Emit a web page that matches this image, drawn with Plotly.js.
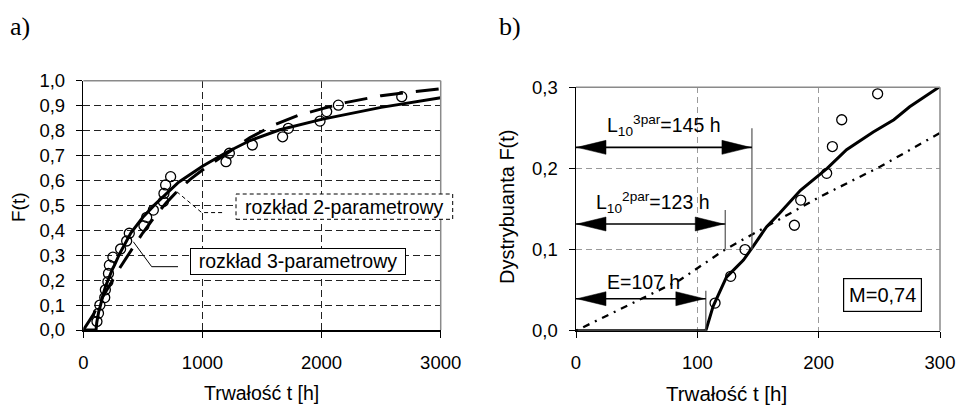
<!DOCTYPE html>
<html><head><meta charset="utf-8">
<script src="https://cdn.plot.ly/plotly-3.0.1.min.js"></script>
<style>html,body{margin:0;padding:0;background:#fff}#chart{width:959px;height:405px}</style>
</head><body><div id="chart"></div>
<script>
// ---- data ----
const obsT = [114.6,127.5,139.3,180,185.2,206.6,211.3,219,248.6,313,364,386,509,532,588,672,677,691,733,1198,1226,1419,1673,1721,1987,2043,2141,2673];
const obsF = [0.034,0.067,0.100,0.130,0.161,0.194,0.227,0.260,0.292,0.325,0.357,0.388,0.418,0.452,0.481,0.515,0.548,0.582,0.615,0.675,0.709,0.742,0.775,0.809,0.838,0.876,0.902,0.936];
const weib3T = [0,107,113,124,130,138,146,157,168,185,207,223,245,262,275,305,400,500,600,700,800,1000,1200,1400,1650,2000,2500,3000];
const weib3F = [0,0,0.030,0.066,0.075,0.087,0.104,0.128,0.145,0.173,0.200,0.223,0.245,0.260,0.276,0.306,0.390,0.452,0.503,0.550,0.593,0.657,0.712,0.760,0.803,0.845,0.893,0.932];
const weib2T = [0,52.7,85.7,122.8,157,201,250.5,305,400,500,600,700,800,900,1000,1200,1400,1600,1800,2000,2200,2500,2800,3000];
const weib2F = [0,0.038,0.0625,0.100,0.128,0.165,0.202,0.248,0.318,0.390,0.455,0.512,0.562,0.605,0.642,0.708,0.772,0.822,0.860,0.887,0.912,0.940,0.958,0.968];
const xTicksA = [0,1000,2000,3000];
const yTicksA = [0,0.1,0.2,0.3,0.4,0.5,0.6,0.7,0.8,0.9,1.0];
const xTicksB = [0,100,200,300];
const yTicksB = [0,0.1,0.2,0.3];
const E = 107, L10_2 = 123, L10_3 = 145;
const F10 = 0.1;
const labelM = 'M=0,74';
const label2 = 'rozkład 2-parametrowy';
const label3 = 'rozkład 3-parametrowy';
const xTitle = 'Trwałość t [h]';

// ---- geometry ----
const W = 959, H = 405;
const px = x => x / W;
const py = y => 1 - y / H;
const FONT = 'Liberation Sans, Arial, Helvetica, sans-serif';

const axisBase = {
  showline:true, linecolor:'#000', linewidth:1.5,
  ticks:'outside', ticklen:6, tickwidth:1, tickcolor:'#000',
  zeroline:false, showgrid:true, gridwidth:1,
  tickfont:{size:18.5, family:FONT, color:'#000'}, fixedrange:true
};

const traces = [
  {x:weib3T, y:weib3F, xaxis:'x', yaxis:'y', mode:'lines', line:{color:'#000', width:3}, hoverinfo:'skip'},
  {x:weib2T, y:weib2F, xaxis:'x', yaxis:'y', mode:'lines', line:{color:'#000', width:3, dash:'23px,13px'}, hoverinfo:'skip'},
  {x:obsT, y:obsF, xaxis:'x', yaxis:'y', mode:'markers', marker:{symbol:'circle-open', size:10, color:'#000', line:{width:1.3}}},
  {x:weib3T, y:weib3F, xaxis:'x2', yaxis:'y2', mode:'lines', line:{color:'#000', width:3}, hoverinfo:'skip'},
  {x:weib2T, y:weib2F, xaxis:'x2', yaxis:'y2', mode:'lines', line:{color:'#000', width:2.3, dash:'2px,6px,7px,6px'}, hoverinfo:'skip'},
  {x:obsT, y:obsF, xaxis:'x2', yaxis:'y2', mode:'markers', marker:{symbol:'circle-open', size:10, color:'#000', line:{width:1.3}}}
];

const shapes = [];
// gray top/right frame for both panels
[['x','y'],['x2','y2']].forEach(([xa,ya]) => {
  shapes.push({type:'line', xref:xa+' domain', yref:ya+' domain', x0:0, x1:1, y0:1, y1:1, line:{color:'#8a8a8a', width:1.5}});
  shapes.push({type:'line', xref:xa+' domain', yref:ya+' domain', x0:1, x1:1, y0:0, y1:1, line:{color:'#8a8a8a', width:1.5}});
});
// panel a callouts
shapes.push({type:'path', xref:'x', yref:'y', path:'M784,0.555 L994,0.471 L1176,0.471', line:{color:'#000', width:1, dash:'4px,3px'}});
shapes.push({type:'path', xref:'x', yref:'y', path:'M420,0.354 L574,0.254 L795,0.254', line:{color:'#000', width:1}});
// dashed box for 2-parameter label
shapes.push({type:'rect', xref:'paper', yref:'paper', x0:px(236), x1:px(452.7), y0:py(219.3), y1:py(194), line:{color:'#000', width:1, dash:'4px,3px'}, fillcolor:'#fff'});

// panel b dimension arrows
function arrow(xEnd, y, vTop, vBot) {
  shapes.push({type:'line', xref:'x2', yref:'y2', x0:xEnd, x1:xEnd, y0:vBot, y1:vTop, line:{color:'#555', width:1.2}});
  shapes.push({type:'line', xref:'x2', yref:'y2', x0:0, x1:xEnd, y0:y, y1:y, line:{color:'#000', width:1.6}});
  shapes.push({type:'path', xref:'x2', yref:'y2', xsizemode:'pixel', ysizemode:'pixel', xanchor:xEnd, yanchor:y,
    path:'M-1.5,0 L-30,7 L-30,-7 Z', fillcolor:'#000', line:{color:'#000', width:0.5}});
  shapes.push({type:'path', xref:'x2', yref:'y2', xsizemode:'pixel', ysizemode:'pixel', xanchor:0, yanchor:y,
    path:'M1,0 L30,7 L30,-7 Z', fillcolor:'#000', line:{color:'#000', width:0.5}});
}
arrow(L10_3, 0.226, 0.2495, F10);
arrow(L10_2, 0.1315, 0.1488, F10);
arrow(E, 0.0394, 0.0493, 0);

const C = {xanchor:'center', yanchor:'middle', showarrow:false};
const annotations = [
  {xref:'paper', yref:'paper', x:px(8), y:py(27), xanchor:'left', yanchor:'middle', text:'a)', showarrow:false, font:{family:'Liberation Serif, Times New Roman, serif', size:26, color:'#000'}},
  {xref:'paper', yref:'paper', x:px(497), y:py(26), xanchor:'left', yanchor:'middle', text:'b)', showarrow:false, font:{family:'Liberation Serif, Times New Roman, serif', size:26, color:'#000'}},
  Object.assign({xref:'paper', yref:'paper', x:px(19), y:py(207), textangle:-90, text:'F(t)', font:{size:19}}, C),
  Object.assign({xref:'paper', yref:'paper', x:px(261.7), y:py(393), text:xTitle, font:{size:19.5}}, C),
  Object.assign({xref:'paper', yref:'paper', x:px(507), y:py(207), textangle:-90, text:'Dystrybuanta F(t)', font:{size:20}}, C),
  Object.assign({xref:'paper', yref:'paper', x:px(726), y:py(393), text:xTitle, font:{size:20.5}}, C),
  Object.assign({xref:'paper', yref:'paper', x:px(344.3), y:py(206.7), text:label2, font:{size:19.5}}, C),
  Object.assign({xref:'x', yref:'y', x:1805, y:0.274, text:label3, font:{size:19.5}, bgcolor:'#fff', bordercolor:'#000', borderwidth:1, borderpad:0, width:214, height:24.5}, C),
  Object.assign({xref:'x2', yref:'y2', x:253, y:0.0446, text:labelM, font:{size:20}, bgcolor:'#fff', bordercolor:'#000', borderwidth:1.2, borderpad:0, width:77, height:32}, C),
  Object.assign({xref:'x2', yref:'y2', x:72.6, y:0.2535, text:'L<sub>10</sub><sup>3par</sup>=145 h', font:{size:19.5}}, C),
  Object.assign({xref:'x2', yref:'y2', x:63.2, y:0.1586, text:'L<sub>10</sub><sup>2par</sup>=123 h', font:{size:19.5}}, C),
  Object.assign({xref:'x2', yref:'y2', x:55.5, y:0.0604, text:'E=107 h', font:{size:19.5}}, C)
];

const layout = {
  width:W, height:H, margin:{l:0,r:0,t:0,b:0},
  paper_bgcolor:'#fff', plot_bgcolor:'#fff', showlegend:false,
  separators:', ',
  font:{family:FONT, color:'#000', size:18},
  xaxis:Object.assign({}, axisBase, {domain:[px(83.3), px(440.7)], anchor:'y', range:[0,3000], tickvals:xTicksA, tickformat:'d',
    gridcolor:'#222', griddash:'7px,4px', ticklabelstandoff:9}),
  yaxis:Object.assign({}, axisBase, {domain:[py(330), py(80.7)], anchor:'x', range:[0,1], tickvals:yTicksA, tickformat:'.1f',
    gridcolor:'#222', griddash:'7px,4px', ticklabelstandoff:7}),
  xaxis2:Object.assign({}, axisBase, {domain:[px(576), px(940)], anchor:'y2', range:[0,300], tickvals:xTicksB, tickformat:'d',
    gridcolor:'#9a9a9a', griddash:'6px,4px', ticklabelstandoff:9}),
  yaxis2:Object.assign({}, axisBase, {domain:[py(330.7), py(87.3)], anchor:'x2', range:[0,0.3], tickvals:yTicksB, tickformat:'.1f',
    gridcolor:'#9a9a9a', griddash:'6px,4px', ticklabelstandoff:7}),
  shapes:shapes, annotations:annotations
};

Plotly.newPlot('chart', traces, layout, {staticPlot:true, displayModeBar:false});
</script></body></html>
